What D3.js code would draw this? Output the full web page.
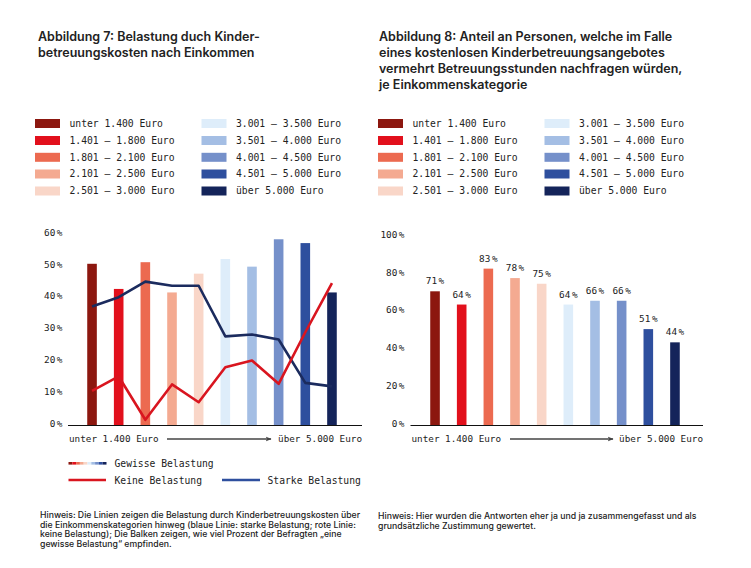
<!DOCTYPE html>
<html>
<head>
<meta charset="utf-8">
<script src="https://cdn.jsdelivr.net/npm/d3@7"></script>
<style>
  body { margin: 0; background: #fff; }
  svg { display: block; }
</style>
</head>
<body>
<div id="chart"></div>
<script>
// Einkommenskategorien (beide Abbildungen)
const categories = [
  "unter 1.400 Euro", "1.401 – 1.800 Euro", "1.801 – 2.100 Euro", "2.101 – 2.500 Euro", "2.501 – 3.000 Euro",
  "3.001 – 3.500 Euro", "3.501 – 4.000 Euro", "4.001 – 4.500 Euro", "4.501 – 5.000 Euro", "über 5.000 Euro"
];
const categoryColors = [
  "#8c170f", "#e2101c", "#ec6a50", "#f4aa91", "#f9d6c8",
  "#deedfa", "#a4bee4", "#7590ca", "#2e4f9e", "#14245a"
];

// Abbildung 7 (Prozent)
const gewisseBelastung = [50.8, 42.9, 51.3, 41.8, 47.7, 52.3, 49.9, 58.5, 57.3, 41.8];
const starkeBelastung = [37.4, 40.3, 45.2, 43.9, 43.9, 28.0, 28.6, 27.0, 13.4, 12.3];
const keineBelastung = [10.9, 15.4, 1.8, 12.9, 7.3, 18.3, 20.4, 13.1, 29.3, 44.7];
const leftTicks = [0, 10, 20, 30, 40, 50, 60];

// Abbildung 8 (Prozent)
const mehrStunden = [71, 64, 83, 78, 75, 64, 66, 66, 51, 44];
const rightTicks = [0, 20, 40, 60, 80, 100];

const axisStart = "unter 1.400 Euro";
const axisEnd = "über 5.000 Euro";

const titleLeft = ["Abbildung 7: Belastung duch Kinder-", "betreuungskosten nach Einkommen"];
const titleRight = [
  "Abbildung 8: Anteil an Personen, welche im Falle",
  "eines kostenlosen Kinderbetreuungsangebotes",
  "vermehrt Betreuungsstunden nachfragen würden,",
  "je Einkommenskategorie"
];
const noteLeft = [
  "Hinweis: Die Linien zeigen die Belastung durch Kinderbetreuungskosten über",
  "die Einkommenskategorien hinweg (blaue Linie: starke Belastung; rote Linie:",
  "keine Belastung); Die Balken zeigen, wie viel Prozent der Befragten „eine",
  "gewisse Belastung“ empfinden."
];
const noteRight = [
  "Hinweis: Hier wurden die Antworten eher ja und ja zusammengefasst und als",
  "grundsätzliche Zustimmung gewertet."
];

const sans = "Inter, 'Noto Sans', sans-serif";
const mono = "'DejaVu Sans Mono', monospace";
const textColor = "#222";
const redLine = "#d9151f";
const blueLine = "#1b2b5e";

const svg = d3.select("#chart").append("svg").attr("width", 751).attr("height", 568);

svg.append("defs").append("marker")
  .attr("id", "arrow")
  .attr("viewBox", "0 0 10 10")
  .attr("refX", 9).attr("refY", 5)
  .attr("markerWidth", 6).attr("markerHeight", 6)
  .attr("markerUnits", "userSpaceOnUse")
  .attr("orient", "auto")
  .append("path")
  .attr("d", "M 0 1 L 10 5 L 0 9 L 3 5 Z")
  .attr("fill", "#444");

function multiline(x, y, lines, lh, size, weight) {
  svg.append("text")
    .attr("x", x).attr("y", y)
    .style("font-family", sans).style("font-size", size + "px")
    .style("font-weight", weight).style("fill", textColor)
    .selectAll("tspan").data(lines).enter().append("tspan")
    .attr("x", x).attr("dy", (d, i) => (i === 0 ? 0 : lh))
    .text((d) => d);
}

function legend(x0, x1) {
  const rows = [123.5, 140.5, 157.3, 174, 191];
  const g = svg.append("g");
  categories.forEach((c, i) => {
    const x = i < 5 ? x0 : x1;
    const y = rows[i % 5];
    g.append("rect").attr("x", x).attr("y", y - 4.5).attr("width", 25).attr("height", 9).attr("fill", categoryColors[i]);
    g.append("text").attr("x", x + 34.5).attr("y", y).attr("dy", "0.35em")
      .style("font-family", mono).style("font-size", "9.7px").style("fill", textColor)
      .text(c);
  });
}

function yAxis(scale, ticks, xRight) {
  const g = svg.append("g");
  const t = g.selectAll("text").data(ticks).enter().append("text")
    .attr("x", xRight).attr("y", (d) => scale(d) - 2).attr("dy", "0.35em")
    .attr("text-anchor", "end")
    .style("font-family", mono).style("font-size", "9.4px").style("fill", textColor);
  t.append("tspan").text((d) => d);
  t.append("tspan").attr("dx", 1.5).text("%");
}

function xAxis(xFrom, xTo, yBase, labelY, arrowFrom, arrowTo) {
  svg.append("line").attr("x1", xFrom).attr("x2", xTo).attr("y1", yBase).attr("y2", yBase)
    .attr("stroke", "#111").attr("stroke-width", 1.2);
  svg.append("text").attr("x", xFrom + 1).attr("y", labelY).attr("dy", "0.35em")
    .style("font-family", mono).style("font-size", "9.3px").style("fill", textColor).text(axisStart);
  svg.append("text").attr("x", xTo).attr("y", labelY).attr("dy", "0.35em").attr("text-anchor", "end")
    .style("font-family", mono).style("font-size", "9.3px").style("fill", textColor).text(axisEnd);
  svg.append("line").attr("x1", arrowFrom).attr("x2", arrowTo).attr("y1", labelY).attr("y2", labelY)
    .attr("stroke", "#444").attr("stroke-width", 1.3).attr("marker-end", "url(#arrow)");
}

// ---------- Abbildung 7 ----------
multiline(38, 40.5, titleLeft, 16, 12.5, 600);
legend(35, 201.5);

const x1 = d3.scaleBand().domain(categories).range([78.7, 345.3]).paddingInner(0.64).paddingOuter(0.32);
const y1 = d3.scaleLinear().domain([0, 60]).range([425.5, 234.5]);

yAxis(y1, leftTicks, 62.5);

svg.append("g").selectAll("rect").data(categories).enter().append("rect")
  .attr("x", (d) => x1(d))
  .attr("y", (d, i) => y1(gewisseBelastung[i]))
  .attr("width", x1.bandwidth())
  .attr("height", (d, i) => y1(0) - y1(gewisseBelastung[i]))
  .attr("fill", (d, i) => categoryColors[i]);

const line1 = d3.line()
  .x((d, i) => x1(categories[i]) + x1.bandwidth() / 2)
  .y((d) => y1(d));

svg.append("path").datum(starkeBelastung).attr("d", line1)
  .attr("fill", "none").attr("stroke", blueLine).attr("stroke-width", 2.6).attr("stroke-linejoin", "round");
svg.append("path").datum(keineBelastung).attr("d", line1)
  .attr("fill", "none").attr("stroke", redLine).attr("stroke-width", 2.6).attr("stroke-linejoin", "round");

xAxis(68, 362, 425.5, 439, 167, 271);

// Linien-Legende
const lg = svg.append("g");
categoryColors.forEach((c, i) => {
  lg.append("rect").attr("x", 68.5 + i * 3.8).attr("y", 462).attr("width", 3.8).attr("height", 2.6).attr("fill", c);
});
lg.append("line").attr("x1", 68.5).attr("x2", 106).attr("y1", 480).attr("y2", 480).attr("stroke", redLine).attr("stroke-width", 2.6);
lg.append("line").attr("x1", 222).attr("x2", 260).attr("y1", 480).attr("y2", 480).attr("stroke", "#2e4f9e").attr("stroke-width", 2.6);
[["Gewisse Belastung", 114.5, 463.5], ["Keine Belastung", 114.5, 480.5], ["Starke Belastung", 267.5, 480.5]].forEach((d) => {
  lg.append("text").attr("x", d[1]).attr("y", d[2]).attr("dy", "0.35em")
    .style("font-family", mono).style("font-size", "9.7px").style("fill", textColor).text(d[0]);
});

multiline(40, 518, noteLeft, 9.5, 8.7, 500);

// ---------- Abbildung 8 ----------
multiline(379, 40.5, titleRight, 16, 12.5, 600);
legend(378, 544.5);

const x2 = d3.scaleBand().domain(categories).range([421.7, 688.3]).paddingInner(0.64).paddingOuter(0.32);
const y2 = d3.scaleLinear().domain([0, 100]).range([425.5, 236.5]);

yAxis(y2, rightTicks, 404.5);

svg.append("g").selectAll("rect").data(categories).enter().append("rect")
  .attr("x", (d) => x2(d))
  .attr("y", (d, i) => y2(mehrStunden[i]))
  .attr("width", x2.bandwidth())
  .attr("height", (d, i) => y2(0) - y2(mehrStunden[i]))
  .attr("fill", (d, i) => categoryColors[i]);

const vl = svg.append("g").selectAll("text").data(categories).enter().append("text")
  .attr("x", (d) => x2(d) + x2.bandwidth() / 2)
  .attr("y", (d, i) => y2(mehrStunden[i]) - 7)
  .attr("text-anchor", "middle")
  .style("font-family", mono).style("font-size", "9.4px").style("fill", textColor);
vl.append("tspan").text((d, i) => mehrStunden[i]);
vl.append("tspan").attr("dx", 1.5).text("%");

xAxis(410.5, 703, 425.5, 439, 510, 613);

multiline(378, 518.5, noteRight, 10, 8.7, 500);
</script>
</body>
</html>
